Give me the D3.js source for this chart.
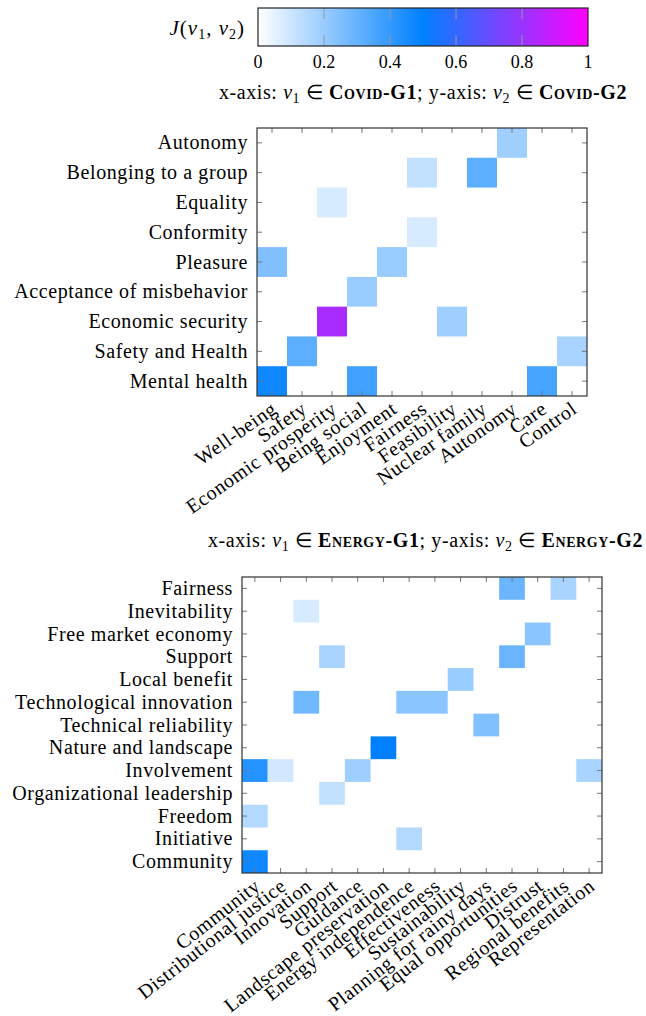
<!DOCTYPE html>
<html>
<head>
<meta charset="utf-8">
<script src="https://cdn.jsdelivr.net/npm/d3@7.9.0/dist/d3.min.js"></script>
<style>
  body { margin: 0; background: #fff; }
</style>
</head>
<body>
<svg id="chart" width="646" height="1016" font-family="Liberation Serif, serif"></svg>
<script>
// ---- data ----
const colorTicks = [0, 0.2, 0.4, 0.6, 0.8, 1];

// Covid: columns are v1 (G1), rows are v2 (G2), rows listed top -> bottom
const covidX = ['Well-being', 'Safety', 'Economic prosperity', 'Being social', 'Enjoyment',
  'Fairness', 'Feasibility', 'Nuclear family', 'Autonomy', 'Care', 'Control'];
const covidY = ['Autonomy', 'Belonging to a group', 'Equality', 'Conformity', 'Pleasure',
  'Acceptance of misbehavior', 'Economic security', 'Safety and Health', 'Mental health'];
const covidCells = [
  ['Autonomy', 'Autonomy', 0.19],
  ['Fairness', 'Belonging to a group', 0.12],
  ['Nuclear family', 'Belonging to a group', 0.32],
  ['Economic prosperity', 'Equality', 0.08],
  ['Fairness', 'Conformity', 0.08],
  ['Well-being', 'Pleasure', 0.25],
  ['Enjoyment', 'Pleasure', 0.2],
  ['Being social', 'Acceptance of misbehavior', 0.2],
  ['Economic prosperity', 'Economic security', 0.83],
  ['Feasibility', 'Economic security', 0.19],
  ['Safety', 'Safety and Health', 0.32],
  ['Control', 'Safety and Health', 0.17],
  ['Well-being', 'Mental health', 0.47],
  ['Being social', 'Mental health', 0.37],
  ['Care', 'Mental health', 0.36]
];

// Energy
const energyX = ['Community', 'Distributional justice', 'Innovation', 'Support', 'Guidance',
  'Landscape preservation', 'Energy independence', 'Effectiveness', 'Sustainability',
  'Planning for rainy days', 'Equal opportunities', 'Distrust', 'Regional benefits', 'Representation'];
const energyY = ['Fairness', 'Inevitability', 'Free market economy', 'Support', 'Local benefit',
  'Technological innovation', 'Technical reliability', 'Nature and landscape', 'Involvement',
  'Organizational leadership', 'Freedom', 'Initiative', 'Community'];
const energyCells = [
  ['Equal opportunities', 'Fairness', 0.29],
  ['Regional benefits', 'Fairness', 0.17],
  ['Innovation', 'Inevitability', 0.08],
  ['Distrust', 'Free market economy', 0.23],
  ['Support', 'Support', 0.17],
  ['Equal opportunities', 'Support', 0.29],
  ['Sustainability', 'Local benefit', 0.2],
  ['Innovation', 'Technological innovation', 0.28],
  ['Energy independence', 'Technological innovation', 0.23],
  ['Effectiveness', 'Technological innovation', 0.23],
  ['Planning for rainy days', 'Technical reliability', 0.25],
  ['Landscape preservation', 'Nature and landscape', 0.5],
  ['Community', 'Involvement', 0.43],
  ['Distributional justice', 'Involvement', 0.09],
  ['Guidance', 'Involvement', 0.19],
  ['Representation', 'Involvement', 0.17],
  ['Support', 'Organizational leadership', 0.12],
  ['Community', 'Freedom', 0.15],
  ['Energy independence', 'Initiative', 0.15],
  ['Community', 'Community', 0.47]
];

// ---- drawing ----
const svg = d3.select('#chart');
const color = d3.scaleLinear().domain([0, 0.5, 1]).range(['#ffffff', '#0080ff', '#ff00ff']);
const labelSize = 20;
const serif = 'Liberation Serif, serif';

// colorbar
const cb = { left: 258, right: 588, top: 8, bottom: 46 };
const cbScale = d3.scaleLinear().domain([0, 1]).range([cb.left, cb.right]);
const grad = svg.append('defs').append('linearGradient').attr('id', 'cbgrad');
grad.selectAll('stop')
  .data(color.domain())
  .enter().append('stop')
  .attr('offset', d => d)
  .attr('stop-color', d => color(d));

svg.append('rect')
  .attr('x', cb.left).attr('y', cb.top)
  .attr('width', cb.right - cb.left).attr('height', cb.bottom - cb.top)
  .attr('fill', 'url(#cbgrad)');

// grey minor ticks inside the colorbar
colorTicks.slice(1, -1).forEach(t => {
  svg.append('line').attr('x1', cbScale(t)).attr('x2', cbScale(t))
    .attr('y1', cb.top).attr('y2', cb.top + 11).attr('stroke', '#999');
  svg.append('line').attr('x1', cbScale(t)).attr('x2', cbScale(t))
    .attr('y1', cb.bottom).attr('y2', cb.bottom - 11).attr('stroke', '#999');
});

svg.append('rect')
  .attr('x', cb.left).attr('y', cb.top)
  .attr('width', cb.right - cb.left).attr('height', cb.bottom - cb.top)
  .attr('fill', 'none').attr('stroke', '#222').attr('stroke-width', 1.2);

svg.selectAll('.cbtick')
  .data(colorTicks)
  .enter().append('text')
  .attr('x', d => cbScale(d)).attr('y', 68)
  .attr('text-anchor', 'middle')
  .style('font-family', serif)
  .style('font-size', '18px')
  .text(d => d);

const jl = svg.append('text').attr('x', 245).attr('y', 35)
  .attr('text-anchor', 'end').style('font-family', serif).style('font-size', '21px')
  .style('letter-spacing', '1px');
jl.append('tspan').style('font-style', 'italic').text('J');
jl.append('tspan').text('(');
jl.append('tspan').style('font-style', 'italic').text('v');
jl.append('tspan').attr('dy', 4).style('font-size', '14px').text('1');
jl.append('tspan').attr('dy', -4).text(', ');
jl.append('tspan').style('font-style', 'italic').text('v');
jl.append('tspan').attr('dy', 4).style('font-size', '14px').text('2');
jl.append('tspan').attr('dy', -4).text(')');

function subtitle(xEnd, y, g1, g2) {
  const t = svg.append('text').attr('x', xEnd).attr('y', y)
    .attr('text-anchor', 'end').style('font-family', serif).style('font-size', '20px')
    .style('letter-spacing', '0.6px');
  const part = (s, style) => {
    const sp = t.append('tspan').text(s);
    if (style) Object.entries(style).forEach(([k, v]) => sp.style(k, v));
    return sp;
  };
  const bold = { 'font-weight': 'bold', 'font-variant': 'small-caps' };
  part('x-axis: ');
  part('v', { 'font-style': 'italic' });
  part('1', { 'font-size': '14px' }).attr('dy', 4);
  part(' \u2208 ').attr('dy', -4);
  part(g1, bold);
  part('; y-axis: ');
  part('v', { 'font-style': 'italic' });
  part('2', { 'font-size': '14px' }).attr('dy', 4);
  part(' \u2208 ').attr('dy', -4);
  part(g2, bold);
}

function heatmap(box, xCats, yCats, cells, angle) {
  const x = d3.scaleBand().domain(xCats).range([box.left, box.right]);
  const y = d3.scaleBand().domain(yCats).range([box.top, box.bottom]);
  const g = svg.append('g');

  g.selectAll('rect.cell')
    .data(cells)
    .enter().append('rect')
    .attr('class', 'cell')
    .attr('x', d => x(d[0])).attr('y', d => y(d[1]))
    .attr('width', x.bandwidth()).attr('height', y.bandwidth())
    .attr('fill', d => color(d[2]));

  const tl = 5;
  xCats.forEach(c => {
    const cx = x(c) + x.bandwidth() / 2;
    g.append('line').attr('x1', cx).attr('x2', cx).attr('y1', box.bottom).attr('y2', box.bottom - tl).attr('stroke', '#777');
    g.append('line').attr('x1', cx).attr('x2', cx).attr('y1', box.top).attr('y2', box.top + tl).attr('stroke', '#777');
  });
  yCats.forEach(c => {
    const cy = y(c) + y.bandwidth() / 2;
    g.append('line').attr('y1', cy).attr('y2', cy).attr('x1', box.left).attr('x2', box.left + tl).attr('stroke', '#777');
    g.append('line').attr('y1', cy).attr('y2', cy).attr('x1', box.right).attr('x2', box.right - tl).attr('stroke', '#777');
  });

  g.append('rect')
    .attr('x', box.left).attr('y', box.top)
    .attr('width', box.right - box.left).attr('height', box.bottom - box.top)
    .attr('fill', 'none').attr('stroke', '#333').attr('stroke-width', 1.2);

  g.selectAll('text.ylab')
    .data(yCats)
    .enter().append('text')
    .attr('class', 'ylab')
    .attr('x', box.left - 9)
    .attr('y', d => y(d) + y.bandwidth() / 2)
    .attr('dy', '0.33em')
    .attr('text-anchor', 'end')
    .style('font-family', serif)
    .style('font-size', labelSize + 'px')
    .style('letter-spacing', '0.6px')
    .text(d => d);

  g.selectAll('text.xlab')
    .data(xCats)
    .enter().append('text')
    .attr('class', 'xlab')
    .attr('transform', d => `translate(${x(d) + x.bandwidth() / 2 - 2},${box.bottom + 4}) rotate(${-angle})`)
    .attr('dy', '0.72em')
    .attr('text-anchor', 'end')
    .style('font-family', serif)
    .style('font-size', labelSize + 'px')
    .style('letter-spacing', '0.6px')
    .text(d => d);
}

subtitle(627, 99, 'Covid-G1', 'Covid-G2');
heatmap({ left: 257, right: 587, top: 128, bottom: 396 }, covidX, covidY, covidCells, 35);

subtitle(643, 547, 'Energy-G1', 'Energy-G2');
heatmap({ left: 242, right: 602, top: 577, bottom: 873 }, energyX, energyY, energyCells, 38);
</script>
</body>
</html>
